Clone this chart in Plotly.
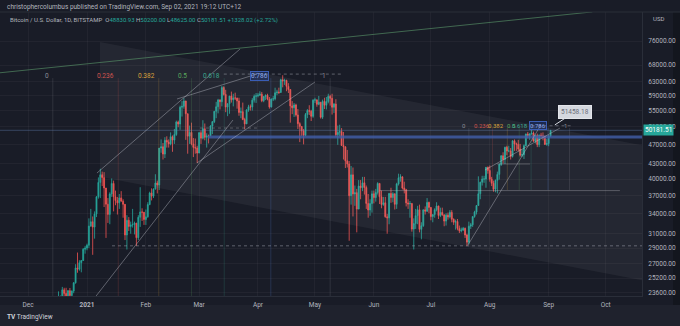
import math
import pandas as pd
import plotly.graph_objects as go

# ---------------- OHLC data: BTC/USD 1D (Bitstamp), 2020-12-01 .. 2021-09-02 ----------------
close_dec = [18765, 19205, 19445, 18699, 19154, 19345, 19191, 18321, 18553, 18264,
             18058, 18803, 19142, 19246, 19417, 21310, 22805, 23137, 23869, 23477,
             22803, 23783, 23241, 23735, 24664, 26437, 26272, 27084, 27362, 28840, 29001]
high_dec = [19900, 19300, 19550, 19500, 19160, 19400, 19400, 19280, 18900, 18600,
            18300, 18900, 19400, 19350, 19550, 21550, 23700, 23250, 24200, 24100,
            24100, 23840, 24080, 23800, 24750, 26900, 28400, 27400, 27400, 29000, 29300]
low_dec = [18300, 18550, 19050, 18650, 18630, 18960, 18940, 18300, 17650, 18200,
           17600, 18000, 18720, 19010, 19070, 19300, 21250, 22350, 22760, 23050,
           22350, 22700, 22650, 22740, 23500, 24570, 25850, 26100, 25900, 27300, 28250]

close_jan = [29374, 32127, 32782, 31971, 33992, 36824, 39371, 40797, 40254, 38356,
             35566, 33922, 37316, 39187, 36825, 36178, 35792, 36630, 36069, 35547,
             30825, 33005, 32067, 32289, 32366, 32569, 30432, 33467, 34316, 34269, 33114]
high_jan = [29600, 33300, 34800, 33600, 34400, 36900, 40300, 41950, 41400, 41300,
            38300, 36600, 37600, 40100, 39700, 37900, 36800, 37300, 37800, 36400,
            35600, 33800, 33500, 32800, 34800, 32800, 32600, 33800, 38500, 34900, 34300]
low_jan = [28700, 29000, 32000, 28100, 30300, 33500, 36500, 36600, 38700, 35100,
           30400, 32600, 32400, 36800, 34400, 35400, 33900, 34800, 36000, 33400,
           30100, 28800, 31400, 31000, 31900, 30900, 29300, 30100, 32000, 32900, 32300]

close_feb = [33537, 35510, 37472, 36926, 38144, 39266, 38903, 46196, 46481, 44918,
             47909, 47504, 47105, 48717, 47945, 49199, 52149, 51679, 55888, 56099,
             57539, 54207, 48824, 49705, 47093, 46339, 46188, 45137]
high_feb = [34700, 35900, 37700, 38300, 38300, 40900, 39700, 46200, 48100, 47300,
            48600, 48800, 48100, 49700, 49000, 50500, 52500, 52500, 56300, 57500,
            58300, 57500, 54200, 51300, 52000, 48400, 48300, 46700]
low_feb = [32300, 33400, 35400, 36200, 36600, 38200, 37400, 38000, 45200, 43800,
           44100, 46300, 46300, 46800, 45400, 47100, 48900, 50900, 50300, 53500,
           55500, 48000, 45000, 47100, 46800, 44300, 45000, 43100]

close_mar = [49631, 48378, 50538, 48561, 48927, 48912, 51206, 52246, 54824, 56008,
             57805, 57332, 61243, 59302, 55907, 56804, 58870, 57858, 58346, 58313,
             57523, 54529, 54738, 52774, 51704, 55137, 55974, 55947, 57750, 58790, 58918]
high_mar = [49800, 50100, 52600, 51800, 49500, 49200, 51400, 52400, 54900, 57300,
            58100, 58000, 61700, 61600, 60600, 56900, 58900, 60100, 59500, 59800,
            58400, 58400, 55800, 57100, 53200, 55400, 56500, 56600, 58300, 59300, 59700]
low_mar = [45100, 47100, 48100, 47900, 46300, 47200, 48900, 49300, 51900, 53100,
           54300, 55300, 56100, 59000, 54600, 53600, 54200, 57100, 56100, 57800,
           55500, 53700, 53100, 52600, 50400, 51700, 54700, 55000, 55000, 57100, 57000]

close_apr = [59095, 59384, 57604, 58758, 59058, 58020, 55948, 58048, 58102, 59774,
             59964, 59835, 63503, 63109, 63314, 61572, 60683, 56216, 55724, 56473,
             53906, 51762, 51094, 50050, 49004, 54021, 55033, 54824, 53555, 57750]
high_apr = [59700, 60200, 60000, 58900, 59300, 59500, 58600, 58200, 58900, 61200,
            60600, 61200, 63800, 64850, 63800, 63500, 62500, 60400, 57500, 57000,
            56800, 55400, 52100, 51200, 50500, 54400, 55400, 56400, 55200, 58000]
low_apr = [58500, 58900, 57200, 57200, 57800, 57700, 55500, 55800, 57500, 57700,
           59100, 59400, 59800, 61300, 62000, 60200, 59700, 52000, 54100, 53400,
           53500, 50500, 47500, 48900, 47000, 48800, 53100, 53900, 52400, 53200]

close_may = [57828, 56631, 57200, 53333, 57424, 56396, 57356, 58803, 58232, 55859,
             56704, 49150, 49716, 49880, 46760, 46456, 43538, 42909, 37002, 40782,
             37304, 37536, 34770, 38705, 38402, 39294, 38436, 35697, 34616, 35678, 37332]
high_may = [58400, 57900, 58900, 57200, 57900, 58400, 58600, 59500, 59200, 59500,
            57000, 58000, 51300, 51500, 50700, 49800, 46600, 45800, 43500, 42500,
            42200, 38800, 38200, 39800, 39800, 40400, 40400, 38800, 37300, 36400, 37900]
low_may = [57000, 56000, 56400, 53000, 52900, 55400, 55300, 56900, 56300, 54000,
           54400, 48700, 46900, 48800, 46700, 43800, 42100, 42200, 30000, 35500,
           33600, 35300, 31200, 34800, 36400, 37800, 37200, 34800, 33400, 33700, 34200]

close_jun = [36684, 37575, 39188, 36825, 35520, 35797, 33552, 33380, 37389, 36702,
             37334, 35552, 39098, 40218, 40406, 38347, 38053, 35787, 35615, 35698,
             31676, 32505, 33723, 34662, 31637, 32186, 34649, 34434, 35867, 35040]
high_jun = [37900, 38200, 39400, 39200, 37900, 36800, 36800, 34000, 37500, 38400,
            37600, 37400, 39300, 41000, 40900, 40500, 39500, 38200, 36400, 36100,
            35700, 33300, 34800, 35300, 35500, 32700, 34700, 35200, 36600, 36000]
low_jun = [35700, 36000, 37200, 35600, 34900, 35300, 33400, 31000, 32400, 35800,
           35900, 34700, 34800, 38800, 39500, 38100, 37400, 35200, 34800, 33400,
           31300, 28800, 31700, 32400, 31200, 30200, 32000, 33900, 34300, 34100]

close_jul = [33572, 33897, 34668, 35287, 33746, 34235, 33855, 32877, 33798, 33520,
             34240, 33155, 32702, 32822, 31780, 31421, 31533, 31796, 30817, 29807,
             32110, 32313, 33581, 34292, 35350, 37337, 39406, 39995, 40008, 42235, 41626]
high_jul = [35100, 33900, 34900, 35900, 35300, 35000, 35000, 33900, 34100, 34200,
            34600, 34600, 33300, 33100, 33200, 32200, 31900, 32000, 31900, 31000,
            32800, 32600, 33600, 34500, 35400, 40500, 39500, 40600, 40600, 42300, 42400]
low_jul = [33000, 32700, 33400, 34400, 33200, 33500, 33700, 32100, 32200, 33100,
           33300, 32700, 32300, 31600, 31500, 31100, 31200, 31400, 30400, 29300,
           29500, 31700, 32000, 33400, 33900, 35300, 36400, 38800, 39300, 38400, 41000]

close_aug = [39974, 39201, 38152, 39747, 40869, 42816, 44555, 43798, 46365, 45585,
             45593, 44428, 47793, 47096, 47047, 46004, 44695, 44802, 46717, 49339,
             48905, 49321, 49546, 47706, 48960, 46942, 49058, 48897, 48806, 46991, 47166]
high_aug = [42600, 40400, 39700, 39900, 41400, 43000, 44700, 45300, 46500, 46700,
            46700, 46200, 47900, 48100, 47400, 48000, 47100, 45900, 47000, 49400,
            49800, 49500, 50500, 49900, 49200, 49400, 49200, 49600, 49700, 48900, 48200]
low_aug = [39500, 38700, 37700, 37600, 37400, 39900, 42500, 43000, 42900, 44700,
           45300, 43800, 44200, 45600, 45600, 45500, 44400, 44300, 43900, 46700,
           48300, 48000, 49200, 47600, 47200, 46400, 46400, 48400, 47900, 46900, 46700]

close_sep = [48853.49, 50181.51]
high_sep = [49100, 50200.00]
low_sep = [46600, 48625.00]

first_open = 19700
last_open = 48830.93

# ---------------- axis ticks ----------------
price_ticks = [23600, 25200, 27000, 29000, 31000, 34000, 37000, 40000, 43000,
               47000, 51000, 55000, 59000, 63000, 68000, 76000]
time_ticks = ["2020-12-01", "2021-01-01", "2021-02-01", "2021-03-01", "2021-04-01",
              "2021-05-01", "2021-06-01", "2021-07-01", "2021-08-01", "2021-09-01",
              "2021-10-01"]
time_labels = ["Dec", "<b>2021</b>", "Feb", "Mar", "Apr", "May", "Jun", "Jul",
               "Aug", "Sep", "Oct"]

# ---------------- drawing anchors (time, price) ----------------
channel_times = ["2021-01-07 20:00", "2021-10-21 17:00"]
channel_upper = [75700, 46670]
channel_lower = [40400, 24885]

green_line_times = ["2020-11-16 05:00", "2021-09-24 00:00"]
green_line_prices = [65600, 87100]

fib_ratios = [0, 0.236, 0.382, 0.5, 0.618, 0.786, 1]
fib_labels = ["0", "0.236", "0.382", "0.5", "0.618", "0.786", "1"]
fib_colors = ["#8a8d96", "#d2544f", "#d9a13c", "#5aa85d", "#3ca88f", "#5b8ff0", "#8a8d96"]
fibA_times = ["2020-12-14", "2021-05-09"]
fibA_prices = [64000, 20000]       # vertical span of lines
fibA_label_price = 64700
fibA_dotted_times = ["2021-03-14", "2021-05-15"]
fibA_dotted_price = 65200

fibB_times = ["2021-07-21", "2021-09-12"]
fibB_prices = [50700, 38000]
fibB_label_price = 51250
fibB_dotted_times = ["2021-08-23", "2021-09-14"]
fibB_dotted_price = 51250

callout_time = "2021-09-04 06:00"
callout_price = 51458.18

trend_lines = [
    (("2021-01-04 04:00", 22770), ("2021-03-18 20:00", 52650)),
    (("2021-01-06 06:00", 41130), ("2021-03-22 13:00", 73280)),
    (("2021-02-17 09:00", 58060), ("2021-03-31 11:00", 65230)),
    (("2021-02-27 21:00", 43100), ("2021-05-01 00:00", 62840)),
    (("2021-07-20 12:00", 29410), ("2021-08-27 22:00", 51440)),
    (("2021-07-29 11:00", 41710), ("2021-09-06 23:00", 50720)),
]

blue_zone = (("2021-03-05 16:00", "2021-10-25"), 48640)
support_dotted = (("2021-01-14 04:00", "2021-10-25"), 29300)
h_line_38k = (("2021-06-04", "2021-10-08 12:00"), 37900)
h_line_43k = (("2021-08-04 19:00", "2021-08-22 04:00"), 42900)
h_dotted_50k = (("2021-03-01 11:00", "2021-03-31 11:00"), 50720)

# ---------------- build series ----------------
closes = (close_dec + close_jan + close_feb + close_mar + close_apr + close_may +
          close_jun + close_jul + close_aug + close_sep)
highs = (high_dec + high_jan + high_feb + high_mar + high_apr + high_may +
         high_jun + high_jul + high_aug + high_sep)
lows = (low_dec + low_jan + low_feb + low_mar + low_apr + low_may +
        low_jun + low_jul + low_aug + low_sep)
dates = pd.date_range("2020-12-01", periods=len(closes), freq="D")
opens = [first_open] + closes[:-1]
opens[-1] = last_open
highs = [max(h, o, c) for h, o, c in zip(highs, opens, closes)]
lows = [min(l, o, c) for l, o, c in zip(lows, opens, closes)]

UP = "#26a69a"
DOWN = "#ef5350"
BG = "#191c27"
TXT = "#b2b5be"
GRAY = "rgba(200,203,212,0.5)"
FONT = "Roboto"

fig = go.Figure()

# descending channel band
fig.add_trace(go.Scatter(
    x=[channel_times[0], channel_times[1], channel_times[1], channel_times[0]],
    y=[channel_upper[0], channel_upper[1], channel_lower[1], channel_lower[0]],
    fill="toself", fillcolor="rgba(255,255,255,0.05)", mode="lines",
    line=dict(width=0), hoverinfo="skip", showlegend=False))

# green long trend line
fig.add_trace(go.Scatter(x=green_line_times, y=green_line_prices, mode="lines",
                         line=dict(color="rgba(90,150,105,0.7)", width=0.9),
                         hoverinfo="skip", showlegend=False))


def vline_traces(times, prices, alpha):
    t0, t1 = pd.Timestamp(times[0]), pd.Timestamp(times[1])
    out = []
    for r, col in zip(fib_ratios, fib_colors):
        t = t0 + (t1 - t0) * r
        out.append((t, col))
        fig.add_trace(go.Scatter(x=[t, t], y=prices, mode="lines",
                                 line=dict(color=col, width=0.7), opacity=alpha,
                                 hoverinfo="skip", showlegend=False))
    return out


fibA_pos = vline_traces(fibA_times, fibA_prices, 0.28)
fibB_pos = vline_traces(fibB_times, fibB_prices, 0.3)

# dotted fib horizontals
for tt, pp in [(fibA_dotted_times, fibA_dotted_price), (fibB_dotted_times, fibB_dotted_price)]:
    fig.add_trace(go.Scatter(x=tt, y=[pp, pp], mode="lines",
                             line=dict(color="rgba(200,203,212,0.5)", width=0.8, dash="dot"),
                             hoverinfo="skip", showlegend=False))

# horizontal levels
fig.add_trace(go.Scatter(x=list(blue_zone[0]), y=[blue_zone[1]] * 2, mode="lines",
                         line=dict(color="rgba(65,95,170,0.8)", width=3),
                         hoverinfo="skip", showlegend=False))
fig.add_trace(go.Scatter(x=list(support_dotted[0]), y=[support_dotted[1]] * 2, mode="lines",
                         line=dict(color="rgba(200,203,212,0.5)", width=0.8, dash="dot"),
                         hoverinfo="skip", showlegend=False))
for seg in (h_line_38k, h_line_43k):
    fig.add_trace(go.Scatter(x=list(seg[0]), y=[seg[1]] * 2, mode="lines",
                             line=dict(color="rgba(200,203,212,0.4)", width=0.8),
                             hoverinfo="skip", showlegend=False))
fig.add_trace(go.Scatter(x=list(h_dotted_50k[0]), y=[h_dotted_50k[1]] * 2, mode="lines",
                         line=dict(color="rgba(200,203,212,0.4)", width=0.8, dash="dot"),
                         hoverinfo="skip", showlegend=False))

# current price line
fig.add_trace(go.Scatter(x=[dates[0] - pd.Timedelta(days=40), dates[-1] + pd.Timedelta(days=60)],
                         y=[closes[-1]] * 2, mode="lines",
                         line=dict(color="rgba(110,140,200,0.45)", width=0.8),
                         hoverinfo="skip", showlegend=False))

# trend lines
for (ta, pa), (tb, pb) in trend_lines:
    fig.add_trace(go.Scatter(x=[ta, tb], y=[pa, pb], mode="lines",
                             line=dict(color=GRAY, width=0.8),
                             hoverinfo="skip", showlegend=False))

# candles
fig.add_trace(go.Candlestick(
    x=dates, open=opens, high=highs, low=lows, close=closes,
    increasing=dict(line=dict(color=UP, width=0.8), fillcolor=UP),
    decreasing=dict(line=dict(color=DOWN, width=0.8), fillcolor=DOWN),
    whiskerwidth=0, showlegend=False, hoverinfo="skip"))

annotations = []
# fib labels
for (t, col), lab in zip(fibA_pos, fib_labels):
    a = dict(x=t, y=math.log10(fibA_label_price), xref="x", yref="y", text=lab,
             showarrow=False, xanchor="right", yanchor="middle", xshift=-2,
             font=dict(size=6.5, color=col, family=FONT))
    if lab == "0.786":
        a.update(bordercolor="#3a5db5", borderwidth=1, bgcolor="rgba(41,98,255,0.18)",
                 borderpad=0, font=dict(size=6.5, color="#8fa9e8", family=FONT))
    annotations.append(a)
for (t, col), lab in zip(fibB_pos, fib_labels):
    a = dict(x=t, y=math.log10(fibB_label_price), xref="x", yref="y", text=lab,
             showarrow=False, xanchor="right", yanchor="middle", xshift=-1,
             font=dict(size=6, color=col, family=FONT))
    if lab == "0.786":
        a.update(bordercolor="#3a5db5", borderwidth=1, bgcolor="rgba(41,98,255,0.18)",
                 borderpad=0, font=dict(size=6, color="#8fa9e8", family=FONT))
    annotations.append(a)

# callout
annotations.append(dict(x=callout_time, y=math.log10(callout_price), xref="x", yref="y",
                        text=f"{callout_price:.2f}", showarrow=True, arrowhead=0,
                        arrowwidth=1, arrowcolor="#d5d8df", ax=20, ay=-13,
                        bgcolor="#d5d8df", bordercolor="#e3e5ea", borderpad=2,
                        font=dict(size=6.5, color="#6a6d78", family=FONT)))

# last price label on scale
annotations.append(dict(x=1, y=math.log10(closes[-1]), xref="paper", yref="y",
                        text=f"{closes[-1]:.2f}", showarrow=False, xanchor="left",
                        yanchor="middle", xshift=1, bgcolor=UP, borderpad=1,
                        font=dict(size=6.5, color="#ffffff", family=FONT)))

# header lines
chg = closes[-1] - closes[-2]
pct = chg / closes[-2] * 100
g = lambda v: f"<span style='color:{UP}'>{v}</span>"
annotations.append(dict(x=5 / 642, y=(296 - 7) / 284, xref="paper", yref="paper",
                        text="christophercolumbus published on TradingView.com, Sep 02, 2021 19:12 UTC+12",
                        showarrow=False, xanchor="left", yanchor="middle",
                        font=dict(size=6.5, color=TXT, family=FONT)))
annotations.append(dict(x=8 / 642, y=(296 - 19.5) / 284, xref="paper", yref="paper",
                        text=("Bitcoin / U.S. Dollar, 1D, BITSTAMP  "
                              f"O{g(f'{opens[-1]:.2f}')} H{g(f'{highs[-1]:.2f}')} "
                              f"L{g(f'{lows[-1]:.2f}')} C{g(f'{closes[-1]:.2f}')} "
                              f"{g(f'+{chg:.2f} (+{pct:.2f}%)')}"),
                        showarrow=False, xanchor="left", yanchor="middle",
                        font=dict(size=6, color=TXT, family=FONT)))
annotations.append(dict(x=658 / 642, y=(296 - 19) / 284, xref="paper", yref="paper",
                        text="USD", showarrow=False, xanchor="center", yanchor="middle",
                        font=dict(size=6, color=TXT, family=FONT)))
annotations.append(dict(x=5 / 642, y=(296 - 316.5) / 284, xref="paper", yref="paper",
                        text="<b>TV</b> TradingView", showarrow=False, xanchor="left",
                        yanchor="middle", font=dict(size=6.5, color="#d1d4dc", family=FONT)))

shapes = [
    dict(type="rect", xref="paper", yref="paper", x0=-0.01, x1=1.1,
         y0=(296 - 305) / 284, y1=(296 - 330) / 284, fillcolor="#1f222d",
         line=dict(width=0), layer="below"),
    dict(type="rect", xref="paper", yref="paper", x0=673 / 642, x1=1.1,
         y0=(296 - 12) / 284, y1=(296 - 305) / 284, fillcolor="#13161e",
         line=dict(width=0), layer="below"),
    dict(type="line", xref="paper", yref="paper", x0=-0.01, x1=1.1,
         y0=1, y1=1, line=dict(color="#2a2e39", width=1)),
]

fig.update_layout(
    width=680, height=326, autosize=False,
    margin=dict(l=0, r=38, t=12, b=30),
    paper_bgcolor=BG, plot_bgcolor=BG,
    showlegend=False,
    annotations=annotations, shapes=shapes,
    xaxis=dict(type="date", range=["2020-11-16 05:00", "2021-10-20 03:00"],
               tickvals=time_ticks, ticktext=time_labels, ticks="",
               tickfont=dict(size=6.5, color=TXT, family=FONT),
               showgrid=True, gridcolor="rgba(255,255,255,0.04)", gridwidth=1,
               showline=True, linecolor="#2a2e39", rangeslider=dict(visible=False),
               zeroline=False, fixedrange=True, ticklabelstandoff=2),
    yaxis=dict(type="log", range=[4.36541, 4.93984], side="right",
               tickvals=price_ticks, ticktext=[f"{v:.2f}" for v in price_ticks],
               ticks="", tickfont=dict(size=6.5, color=TXT, family=FONT),
               showgrid=True, gridcolor="rgba(255,255,255,0.04)", gridwidth=1,
               showline=True, linecolor="#2a2e39", zeroline=False,
               fixedrange=True, ticklabelstandoff=4),
)

fig.write_html("out.html")
